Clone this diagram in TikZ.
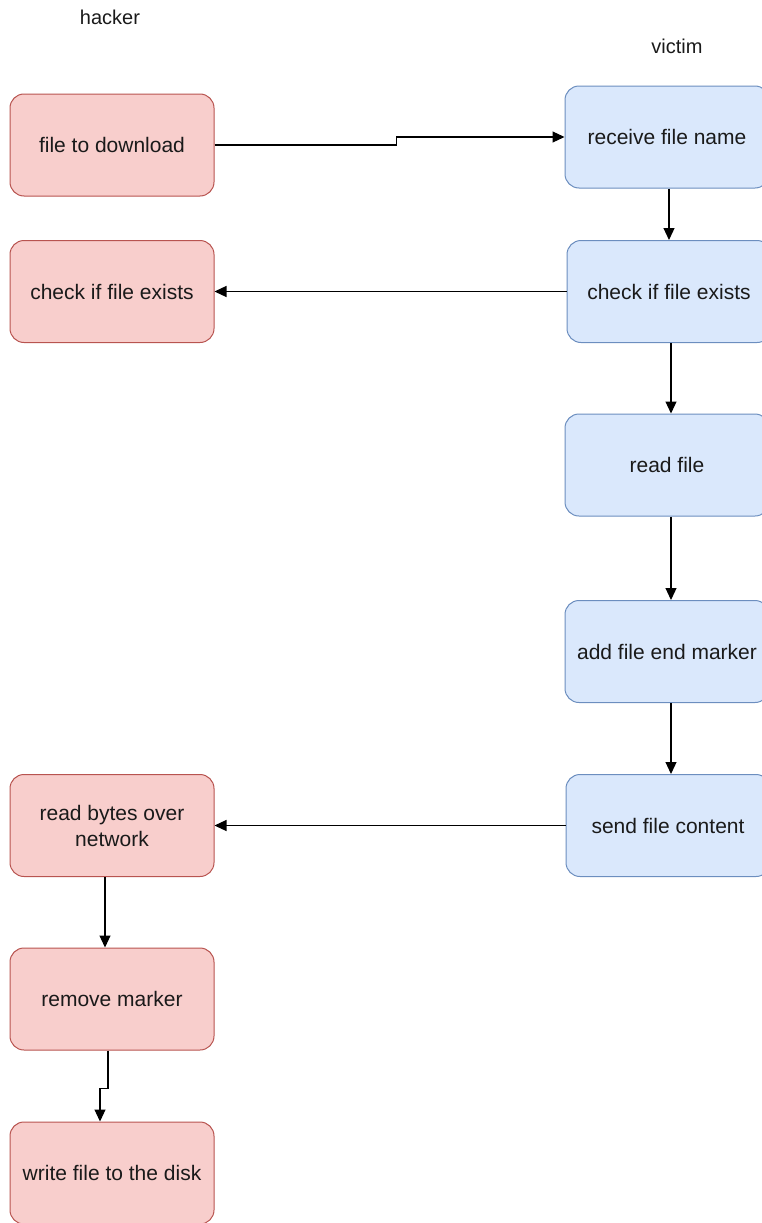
\documentclass[tikz,border=0pt]{standalone}
\usepackage{fontspec}
\setmainfont{Liberation Sans}
\usetikzlibrary{arrows.meta}
\definecolor{redfill}{HTML}{F8CECC}
\definecolor{redline}{HTML}{B85450}
\definecolor{bluefill}{HTML}{DAE8FC}
\definecolor{blueline}{HTML}{6C8EBF}
\definecolor{txt}{HTML}{1A1A1A}
\tikzset{
  box/.style={rectangle, rounded corners=14pt, minimum width=204pt, minimum height=102pt, line width=1pt, font=\fontsize{21}{26}\selectfont, text=txt, align=center, inner sep=2pt},
  hbox/.style={box, fill=redfill, draw=redline},
  vbox/.style={box, fill=bluefill, draw=blueline},
  conn/.style={line width=1.2pt, -{Triangle[length=12pt,width=11pt]}},
  lab/.style={font=\fontsize{20}{24}\selectfont, text=txt}
}
\begin{document}
\begin{tikzpicture}[x=1pt,y=-1pt]
\useasboundingbox (0,0) rectangle (762,1223);
\clip (0,0) rectangle (762,1223);
\node[lab] (hl) at (110,17) {hacker};
\node[lab] (vl) at (677,46) {victim};
% hacker side
\node[hbox] (h1) at (112,145) {file to download};
\node[hbox] (h2) at (112,291.5) {check if file exists};
\node[hbox] (h3) at (112,825.5) {read bytes over\\network};
\node[hbox] (h4) at (112,999) {remove marker};
\node[hbox] (h5) at (112,1173) {write file to the disk};
% victim side
\node[vbox] (v1) at (667,137) {receive file name};
\node[vbox] (v2) at (669,291.5) {check if file exists};
\node[vbox] (v3) at (667,465) {read file};
\node[vbox] (v4) at (667,651.5) {add file end marker};
\node[vbox] (v5) at (668,825.5) {send file content};
% connectors
\draw[conn] (h1.east) -- ++(182,0) |- (v1.west);
\draw[conn] ([xshift=2pt]v1.south) -- (v2.north);
\draw[conn] (v2.west) -- (h2.east);
\draw[conn] ([xshift=2pt]v2.south) -- ([xshift=4pt]v3.north);
\draw[conn] ([xshift=4pt]v3.south) -- ([xshift=4pt]v4.north);
\draw[conn] ([xshift=4pt]v4.south) -- ([xshift=3pt]v5.north);
\draw[conn] (v5.west) -- (h3.east);
\draw[conn] ([xshift=-7pt]h3.south) -- ([xshift=-7pt]h4.north);
\draw[conn] ([xshift=-4pt]h4.south) -- ++(0,38) -| ([xshift=-12pt]h5.north);
\end{tikzpicture}
\end{document}
